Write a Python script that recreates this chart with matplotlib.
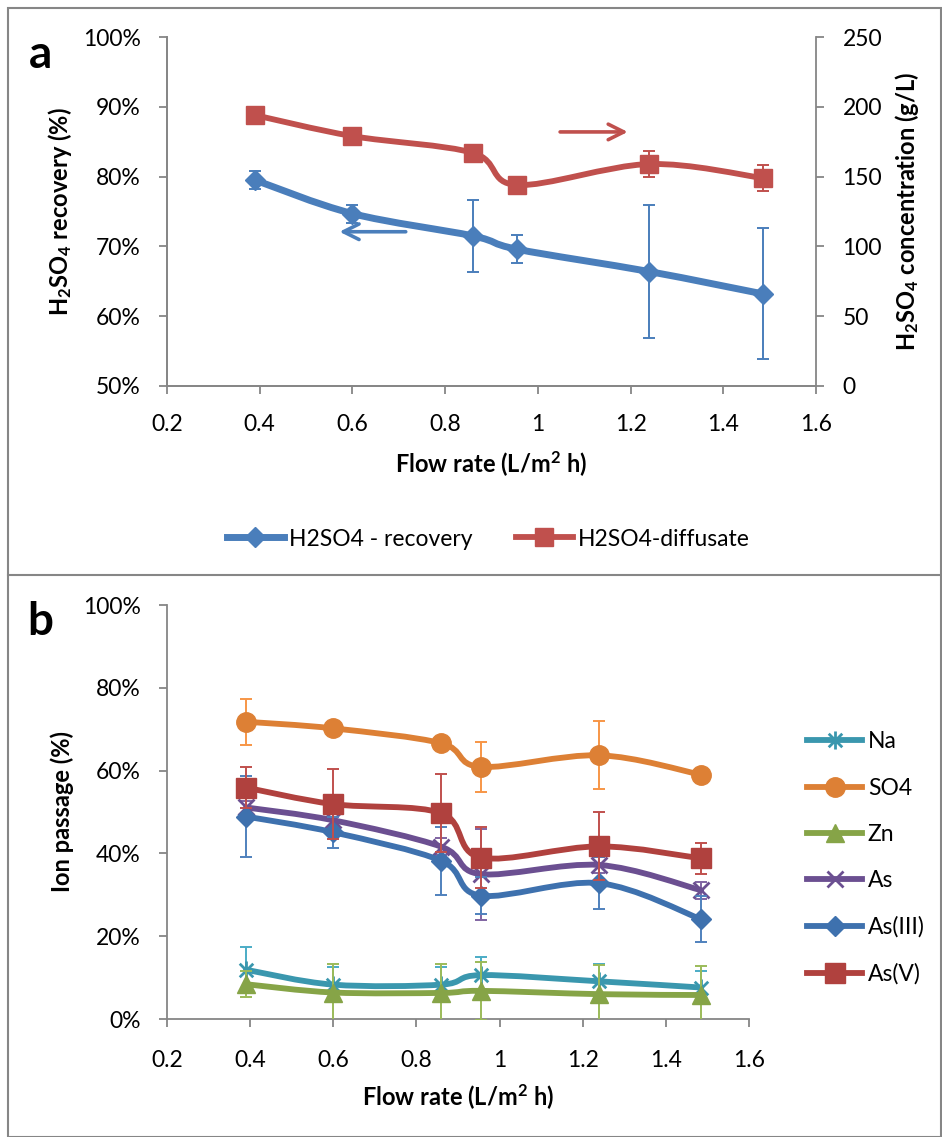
import matplotlib
matplotlib.use('Agg')
import matplotlib.pyplot as plt
from matplotlib.path import Path
from matplotlib.patches import PathPatch, Rectangle
from matplotlib.lines import Line2D
from matplotlib.ticker import FuncFormatter, MultipleLocator
import numpy as np

plt.rcParams['font.family'] = ['Lato', 'DejaVu Sans']
plt.rcParams['mathtext.fontset'] = 'custom'
plt.rcParams['mathtext.rm'] = 'Lato'
plt.rcParams['mathtext.bf'] = 'Lato:bold'
plt.rcParams['mathtext.it'] = 'Lato:italic'

# ---------------- data ----------------
flow = [0.39, 0.60, 0.86, 0.955, 1.24, 1.485]

# panel a
recovery = [79.5, 74.7, 71.5, 69.6, 66.4, 63.2]          # %
recovery_err = [1.3, 1.3, 5.2, 2.0, 9.5, 9.4]
diffusate = [194, 179, 167, 144, 159, 149]                # g/L
diffusate_err = [2, 2, 2, 2, 9, 9]

# panel b (ion passage, %)
ion_names = ['Na', 'SO4', 'Zn', 'As', 'As(III)', 'As(V)']
na = [11.9, 8.3, 8.3, 10.6, 9.1, 7.6]
na_err = [5.6, 4.2, 4.2, 4.3, 4.2, 4.0]
so4 = [71.8, 70.2, 66.6, 60.9, 63.7, 59.0]
so4_err = [5.6, 1.0, 1.0, 6.0, 8.2, 1.0]
zn = [8.4, 6.4, 6.3, 6.8, 6.0, 5.8]
zn_err = [3.2, 7.0, 7.0, 7.0, 7.0, 7.0]
as_tot = [51.1, 48.0, 41.6, 35.0, 37.2, 31.1]
as_err = [1.5, 2.0, 2.0, 11.0, 2.0, 2.0]
as3 = [48.9, 45.1, 38.2, 29.8, 32.8, 24.1]
as3_err = [9.8, 3.8, 8.2, 4.5, 6.3, 5.5]
as5 = [55.9, 51.9, 49.7, 39.0, 41.7, 38.8]
as5_err = [5.0, 8.4, 9.4, 7.4, 8.2, 3.8]

x_ticks = [0.2, 0.4, 0.6, 0.8, 1.0, 1.2, 1.4, 1.6]

# ---------------- helpers ----------------
GRAY = '#868686'
TICK_FS = 16.5
LAB_FS = 17


def smooth_path(x, y):
    pts = np.column_stack([x, y]).astype(float)
    n = len(pts)
    verts = [pts[0]]
    codes = [Path.MOVETO]
    for i in range(n - 1):
        p0 = pts[i - 1] if i > 0 else pts[i]
        p1 = pts[i]
        p2 = pts[i + 1]
        p3 = pts[i + 2] if i + 2 < n else pts[i + 1]
        c1 = p1 + (p2 - p0) / 6.0
        c2 = p2 - (p3 - p1) / 6.0
        verts += [c1, c2, p2]
        codes += [Path.CURVE4] * 3
    return Path(verts, codes)


def draw_series(ax, x, y, err, line_c, err_c, marker, ms, lw, mew=1, z=2):
    ax.errorbar(x, y, yerr=err, fmt='none', ecolor=err_c, elinewidth=1.4,
                capsize=4.5, capthick=1.4, zorder=z)
    ax.add_patch(PathPatch(smooth_path(x, y), facecolor='none', edgecolor=line_c,
                           lw=lw, capstyle='round', joinstyle='round', zorder=z + 0.1))
    ax.plot(x, y, linestyle='none', marker=marker, ms=ms, color=line_c,
            mec=line_c, mew=mew, zorder=z + 0.2)


ASTER = Path([(0, -1), (0, 1), (-0.75, -0.75), (0.75, 0.75), (-0.75, 0.75), (0.75, -0.75)],
             [Path.MOVETO, Path.LINETO, Path.MOVETO, Path.LINETO, Path.MOVETO, Path.LINETO])


def style_axis(ax):
    ax.tick_params(axis='both', which='major', length=6, width=1.3, color=GRAY,
                   labelsize=TICK_FS, direction='out')
    for s in ax.spines.values():
        s.set_color(GRAY)
        s.set_linewidth(1.3)


W, H = 942, 1137
fig = plt.figure(figsize=(W / 100, H / 100), dpi=100)

# ---------------- panel a ----------------
ax1 = fig.add_axes([167 / W, 1 - 386 / H, (816 - 167) / W, (386 - 37) / H])
ax2 = ax1.twinx()
BLUE = '#4A7EBB'
RED = '#C0504D'

draw_series(ax1, flow, recovery, recovery_err, BLUE, BLUE, 'D', 10.5, 5.0)
draw_series(ax2, flow, diffusate, diffusate_err, RED, RED, 's', 13.5, 4.2)

ax1.set_xlim(0.2, 1.6)
ax1.set_ylim(50, 100)
ax2.set_ylim(0, 250)
ax1.set_xticks(x_ticks)
ax1.xaxis.set_major_formatter(FuncFormatter(lambda v, p: f"{round(v, 1):g}"))
ax1.yaxis.set_major_locator(MultipleLocator(10))
ax1.yaxis.set_major_formatter(FuncFormatter(lambda v, p: f"{v:.0f}%"))
ax2.yaxis.set_major_locator(MultipleLocator(50))
for a in (ax1, ax2):
    style_axis(a)
    a.spines['top'].set_visible(False)
ax1.spines['right'].set_visible(False)
ax1.tick_params(axis='y', pad=13)
ax1.tick_params(axis='x', pad=14)
ax2.tick_params(axis='y', pad=13)

ax1.set_xlabel('Flow rate (L/m$^\\mathbf{2}$ h)', fontsize=LAB_FS, fontweight='bold', labelpad=10)
ax1.set_ylabel('H$_\\mathbf{2}$SO$_\\mathbf{4}$ recovery (%)', fontsize=LAB_FS,
               fontweight='bold', labelpad=6)
ax2.set_ylabel('H$_\\mathbf{2}$SO$_\\mathbf{4}$ concentration (g/L)', fontsize=LAB_FS,
               fontweight='bold', labelpad=8)

ax1.annotate('', xy=(1.2, 86.4), xytext=(1.042, 86.4),
             arrowprops=dict(arrowstyle='->', color=RED, lw=2.6, mutation_scale=28))
ax1.annotate('', xy=(0.566, 72.1), xytext=(0.721, 72.1),
             arrowprops=dict(arrowstyle='->', color=BLUE, lw=2.6, mutation_scale=28))

h_a = [Line2D([], [], color=BLUE, lw=5, marker='D', ms=10.5),
       Line2D([], [], color=RED, lw=4.2, marker='s', ms=13.5)]
fig.legend(h_a, ['H2SO4 - recovery', 'H2SO4-diffusate'], loc='center',
           bbox_to_anchor=(488 / W, 1 - 539 / H), ncol=2, frameon=False,
           fontsize=TICK_FS, handlelength=2.5, handletextpad=0.2, columnspacing=1.9)

fig.text(40 / W, 1 - 55 / H, 'a', fontsize=33, fontweight='bold', ha='center', va='center')

# ---------------- panel b ----------------
axb = fig.add_axes([167 / W, 1 - 1019 / H, (749 - 167) / W, (1019 - 605) / H])
series_b = [
    (na, na_err, '#3A97AE', '#4BACC6', ASTER, 13, 2.0),
    (so4, so4_err, '#DD8035', '#F79646', 'o', 14, 1),
    (zn, zn_err, '#86A447', '#9BBB59', '^', 13, 1),
    (as_tot, as_err, '#6B4F91', '#8064A2', 'x', 12, 2.0),
    (as3, as3_err, '#3E71AE', '#4F81BD', 'D', 10, 1),
    (as5, as5_err, '#B0413E', '#C0504D', 's', 14, 1),
]
handles_b = []
for k, (vals, errs, lc, ec, mk, ms, mew) in enumerate(series_b):
    draw_series(axb, flow, vals, errs, lc, ec, mk, ms, 4.2, mew=mew, z=2 + k)
    handles_b.append(Line2D([], [], color=lc, lw=4.2, marker=mk, ms=ms, mew=mew, mec=lc))

axb.set_xlim(0.2, 1.6)
axb.set_ylim(0, 100)
axb.set_xticks(x_ticks)
axb.xaxis.set_major_formatter(FuncFormatter(lambda v, p: f"{round(v, 1):g}"))
axb.yaxis.set_major_locator(MultipleLocator(20))
axb.yaxis.set_major_formatter(FuncFormatter(lambda v, p: f"{v:.0f}%"))
style_axis(axb)
axb.spines['top'].set_visible(False)
axb.spines['right'].set_visible(False)
axb.tick_params(axis='y', pad=13)
axb.tick_params(axis='x', pad=16)
axb.set_xlabel('Flow rate (L/m$^\\mathbf{2}$ h)', fontsize=LAB_FS, fontweight='bold', labelpad=8)
axb.set_ylabel('Ion passage (%)', fontsize=LAB_FS, fontweight='bold', labelpad=6)

fig.legend(handles_b, ion_names, loc='center left', bbox_to_anchor=(807 / W, 1 - 858 / H),
           frameon=False, fontsize=TICK_FS, handlelength=2.4, handletextpad=0.25,
           labelspacing=1.1, borderpad=0, borderaxespad=0)

fig.text(40 / W, 1 - 622 / H, 'b', fontsize=33, fontweight='bold', ha='center', va='center')

# ---------------- frames ----------------
fig.add_artist(Rectangle((8 / W, 0), (941 - 8) / W, 1 - 8 / H, transform=fig.transFigure,
                         fill=False, edgecolor=GRAY, lw=1.5))
fig.add_artist(Line2D([8 / W, 941 / W], [1 - 575 / H, 1 - 575 / H], transform=fig.transFigure,
                      color=GRAY, lw=1.5))

fig.savefig('out.png', dpi=100)
